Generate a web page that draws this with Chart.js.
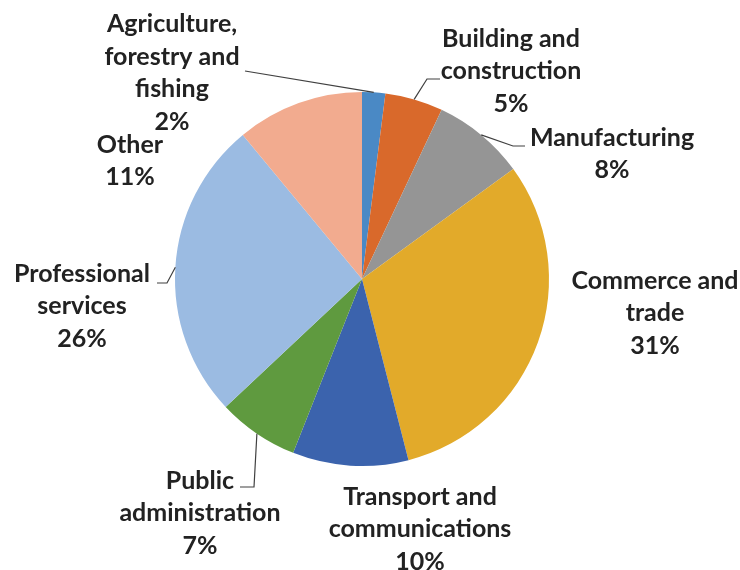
<!DOCTYPE html>
<html>
<head>
<meta charset="utf-8">
<script src="https://cdn.jsdelivr.net/npm/chart.js@4"></script>
<style>
  html, body { margin: 0; padding: 0; background: #fff; }
  #wrap { width: 740px; height: 570px; }
</style>
</head>
<body>
<div id="wrap"><canvas id="chart"></canvas></div>
<script>
// sectors, clockwise from 12 o'clock
const sectors = [
  'Agriculture, forestry and fishing',
  'Building and construction',
  'Manufacturing',
  'Commerce and trade',
  'Transport and communications',
  'Public administration',
  'Professional services',
  'Other'
]
const shares = [2, 5, 8, 31, 10, 7, 26, 11]
const labelLines = [
  ['Agriculture,', 'forestry and', 'fishing'],
  ['Building and', 'construction'],
  ['Manufacturing'],
  ['Commerce and', 'trade'],
  ['Transport and', 'communications'],
  ['Public', 'administration'],
  ['Professional', 'services'],
  ['Other']
]
const colors = ['#4a89c5', '#d9692b', '#959595', '#e2aa2a', '#3b63ad', '#5f9a3f', '#9bbbe2', '#f2ab8f']

// label block centres, px from pie centre
const labelSpots = [[-190, -206], [149, -208], [250, -125], [293, 34], [58, 250], [-162, 234], [-280, 27], [-232, -118]]
// leader lines: elbow points after the slice edge, px from pie centre (null = no leader)
const leaders = [
  [[-117, -208]],
  [[65, -200], [78, -200]],
  [[151, -133], [163, -133]],
  null,
  null,
  [[-108, 208], [-122, 208]],
  [[-195, 4], [-205, 4]],
  null
]

const labelFont = 'bold 25px Lato, "Open Sans", sans-serif'
const lineHeight = 32.5

const pieLabels = {
  id: 'pieLabels',
  afterDatasetsDraw(chart) {
    const ctx = chart.ctx
    const arcs = chart.getDatasetMeta(0).data
    ctx.save()
    arcs.forEach((arc, i) => {
      const { x, y, startAngle, endAngle, outerRadius } = arc.getProps(['x', 'y', 'startAngle', 'endAngle', 'outerRadius'], true)
      if (leaders[i]) {
        const mid = (startAngle + endAngle) / 2
        ctx.beginPath()
        ctx.moveTo(x + Math.cos(mid) * outerRadius, y + Math.sin(mid) * outerRadius)
        leaders[i].forEach(p => ctx.lineTo(x + p[0], y + p[1]))
        ctx.strokeStyle = '#404040'
        ctx.lineWidth = 1.2
        ctx.stroke()
      }
      const lines = labelLines[i].concat(shares[i] + '%')
      const cx = x + labelSpots[i][0]
      const cy = y + labelSpots[i][1] - (lines.length - 1) * lineHeight / 2
      ctx.font = labelFont
      ctx.fillStyle = '#222'
      ctx.textAlign = 'center'
      ctx.textBaseline = 'middle'
      lines.forEach((t, k) => ctx.fillText(t, cx, cy + k * lineHeight))
    })
    ctx.restore()
  }
}

new Chart(document.getElementById('chart'), {
  type: 'pie',
  data: {
    labels: sectors,
    datasets: [{
      data: shares,
      backgroundColor: colors,
      borderWidth: 0
    }]
  },
  options: {
    responsive: true,
    maintainAspectRatio: false,
    animation: false,
    layout: { padding: { left: 175, right: 191, top: 92, bottom: 104 } },
    plugins: {
      legend: { display: false },
      tooltip: { enabled: false }
    }
  },
  plugins: [pieLabels]
})
</script>
</body>
</html>
